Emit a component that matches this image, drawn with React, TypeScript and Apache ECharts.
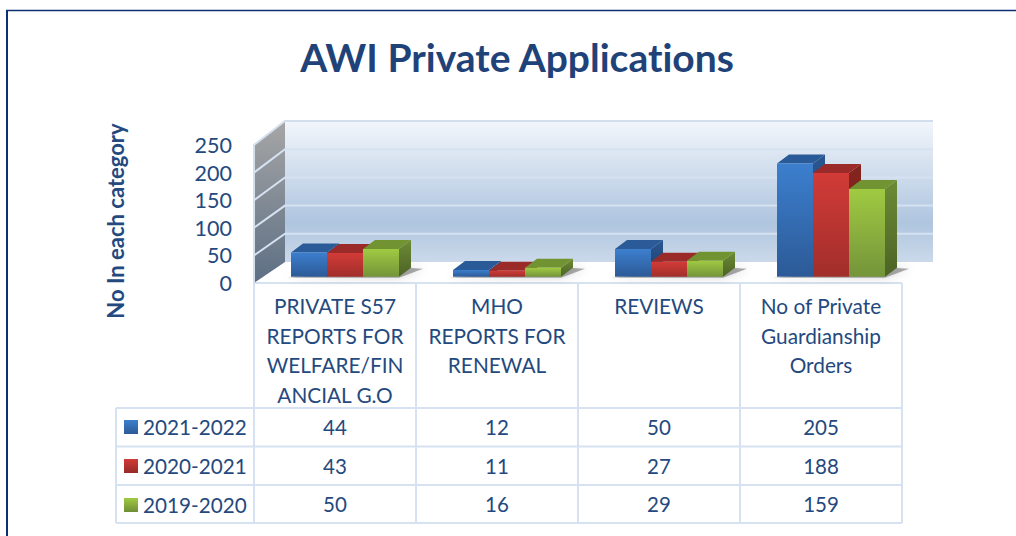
import React, { useEffect, useRef } from "react";
import * as echarts from "echarts";

const categories = [
  "PRIVATE S57\nREPORTS FOR\nWELFARE/FIN\nANCIAL G.O",
  "MHO\nREPORTS FOR\nRENEWAL",
  "REVIEWS",
  "No of Private\nGuardianship\nOrders",
];
const seriesNames = ["2021-2022", "2020-2021", "2019-2020"];
const values2122 = [44, 12, 50, 205];
const values2021 = [43, 11, 27, 188];
const values1920 = [50, 16, 29, 159];
const yTicks = [0, 50, 100, 150, 200, 250];
const titleText = "AWI Private Applications";
const yAxisTitle = "No In each category";

const FONT = "Lato, 'Noto Sans', sans-serif";
const TEXT = "#24497e";
const GRID_LINE = "#d6e2f1";
const grad = (a: string, b: string) =>
  new echarts.graphic.LinearGradient(0, 0, 0, 1, [
    { offset: 0, color: a },
    { offset: 1, color: b },
  ]);

const palette = [
  { front: ["#3c7fce", "#2c5a97"], top: "#2b5a98", side: ["#2a5790", "#1f3f6d"], legend: ["#3c7fce", "#2c5a97"] },
  { front: ["#d23b37", "#a12e2b"], top: "#9b2b28", side: ["#85241f", "#6d1e1b"], legend: ["#d23b37", "#962b28"] },
  { front: ["#a0ca42", "#74943a"], top: "#719331", side: ["#6d8b35", "#4c6325"], legend: ["#a0ca42", "#6f8e36"] },
];

const DEPTH_X = 31, DEPTH_Y = 21;
const BAR_DX = 10, BAR_DY = 6.3, BAR_W = 36, TOP_X = 12, TOP_Y = 9;
const rowY = [426.5, 465.5, 503.5];

function wallItem(params: any, api: any) {
  const i = params.dataIndex;
  const bw = api.size([1, 0])[0];
  const x0 = api.coord([0, 0])[0] - bw / 2;
  const x1 = api.coord([3, 0])[0] + bw / 2;
  const yBase = api.coord([0, 0])[1];
  const yTop = api.coord([0, yTicks[yTicks.length - 1]])[1];
  const y = api.coord([0, api.value(1)])[1];
  const children: any[] = [];
  if (i === 0) {
    children.push(
      {
        type: "polygon",
        shape: { points: [[x0 + DEPTH_X, yTop - DEPTH_Y - 3], [x1 + DEPTH_X, yTop - DEPTH_Y - 3], [x1 + DEPTH_X, yBase - DEPTH_Y], [x0 + DEPTH_X, yBase - DEPTH_Y]] },
        style: {
          fill: new echarts.graphic.LinearGradient(0, 0, 0, 1, [
            { offset: 0, color: "#f2f6fb" },
            { offset: 0.72, color: "#afc5df" },
            { offset: 1, color: "#cbd9ea" },
          ]),
        },
      },
      {
        type: "polygon",
        shape: { points: [[x0, yTop], [x0 + DEPTH_X, yTop - DEPTH_Y - 3], [x0 + DEPTH_X, yBase - DEPTH_Y], [x0, yBase]] },
        style: { fill: grad("#a6a6a6", "#5d6f84") },
      },
      {
        type: "polyline",
        shape: { points: [[x0, yBase], [x0, yTop], [x0 + DEPTH_X, yTop - DEPTH_Y - 3], [x1 + DEPTH_X, yTop - DEPTH_Y - 3]] },
        style: { fill: "none", stroke: "#d3deec", lineWidth: 2 },
      }
    );
  }
  if (i > 0 && i < yTicks.length - 1) {
    const yBack = y - DEPTH_Y - (3 * api.value(1)) / yTicks[yTicks.length - 1];
    children.push({
      type: "polyline",
      shape: { points: [[x0, y], [x0 + DEPTH_X, yBack], [x1 + DEPTH_X, yBack]] },
      style: { fill: "none", stroke: GRID_LINE, lineWidth: 2 },
    });
  }
  return { type: "group", children };
}

function shadowItem(params: any, api: any) {
  const c = api.coord([api.value(0), 0]);
  const x0 = c[0] + BAR_DX - 1.5 * BAR_W;
  const x1 = c[0] + BAR_DX + 1.5 * BAR_W;
  const y = c[1] - BAR_DY;
  return {
    type: "polygon",
    shape: { points: [[x0 - 4, y + 1], [x1, y + 1], [x1 + 24, y - 8], [x1 + 8, y - 9]] },
    style: { fill: "rgba(70,70,70,0.45)", shadowBlur: 8, shadowColor: "rgba(70,70,70,0.5)" },
  };
}

const barItem = (si: number) => (params: any, api: any) => {
  const p = palette[si];
  const v = api.value(1);
  const center = api.coord([api.value(0), 0]);
  const top = api.coord([api.value(0), v]);
  const xl = center[0] + BAR_DX + (si - 1.5) * BAR_W;
  const xr = xl + BAR_W;
  const yb = center[1] - BAR_DY;
  const yt = top[1] - BAR_DY;
  return {
    type: "group",
    children: [
      {
        type: "polygon",
        shape: { points: [[xr, yb], [xr + TOP_X, yb - TOP_Y], [xr + TOP_X, yt - TOP_Y], [xr, yt]] },
        style: { fill: grad(p.side[0], p.side[1]) },
      },
      {
        type: "polygon",
        shape: { points: [[xl, yt], [xr, yt], [xr + TOP_X, yt - TOP_Y], [xl + TOP_X, yt - TOP_Y]] },
        style: { fill: p.top },
      },
      {
        type: "rect",
        shape: { x: xl, y: yt, width: BAR_W, height: yb - yt },
        style: { fill: grad(p.front[0], p.front[1]) },
      },
      {
        type: "text",
        style: {
          text: String(v), x: center[0], y: rowY[si], fill: TEXT,
          fontSize: 20.5, fontFamily: FONT, align: "center", verticalAlign: "middle",
        },
      },
    ],
  };
};

const tableH = [283, 408, 446.5, 485, 523];
const tableV = [254, 416, 578, 740, 902];
const tableLeft = 116;

export default function App() {
  const ref = useRef<HTMLDivElement>(null);
  useEffect(() => {
    document.body.style.margin = "0";
    const chart = echarts.init(ref.current!, undefined, { renderer: "svg" });
    const lineStyle = { stroke: GRID_LINE, lineWidth: 2 };
    const lines: any[] = [];
    tableH.forEach((y, i) =>
      lines.push({ type: "line", z: 0, shape: { x1: i < 2 ? tableV[0] : tableLeft, y1: y, x2: tableV[4], y2: y }, style: lineStyle })
    );
    lines[1].shape.x1 = tableLeft;
    tableV.forEach((x) =>
      lines.push({ type: "line", z: 0, shape: { x1: x, y1: tableH[0], x2: x, y2: tableH[4] }, style: lineStyle })
    );
    lines.push({ type: "line", z: 0, shape: { x1: tableLeft, y1: tableH[1], x2: tableLeft, y2: tableH[4] }, style: lineStyle });
    const frame = "#0d2f73";
    lines.push({ type: "line", shape: { x1: 6, y1: 10.5, x2: 1016, y2: 10.5 }, style: { stroke: frame, lineWidth: 1.5 } });
    lines.push({ type: "line", shape: { x1: 7, y1: 10, x2: 7, y2: 536 }, style: { stroke: frame, lineWidth: 2 } });

    const bars = [values2122, values2021, values1920];
    chart.setOption({
      animation: false,
      backgroundColor: "#ffffff",
      title: {
        text: titleText, left: 512, top: 32, textAlign: "center",
        textStyle: { color: "#1f4379", fontSize: 39, fontWeight: "bold", fontFamily: FONT },
      },
      grid: { left: 254, top: 145, width: 648, height: 138 },
      legend: {
        data: seriesNames, orient: "vertical", left: 124, top: 416.5, itemWidth: 14, itemHeight: 14, itemGap: 18,
        icon: "rect", selectedMode: false, padding: 0,
        textStyle: { color: TEXT, fontSize: 20.7, fontFamily: FONT, lineHeight: 20.4, padding: 0 },
      },
      xAxis: {
        type: "category", data: categories,
        axisLine: { show: false }, axisTick: { show: false },
        axisLabel: { interval: 0, color: TEXT, fontSize: 20.8, fontFamily: FONT, lineHeight: 29.5, margin: 8, verticalAlign: "top" },
      },
      yAxis: {
        type: "value", min: 0, max: 250, interval: 50,
        name: yAxisTitle, nameLocation: "middle", nameGap: 128, nameRotate: 90,
        nameTextStyle: { color: TEXT, fontSize: 22, fontWeight: "bold", fontFamily: FONT, padding: [0, 14, 0, 0] },
        axisLine: { show: false }, axisTick: { show: false }, splitLine: { show: false },
        axisLabel: { color: TEXT, fontSize: 21.5, fontFamily: FONT, margin: 22 },
      },
      graphic: lines,
      series: [
        { type: "custom", name: "walls", z: 1, clip: false, silent: true, renderItem: wallItem, data: yTicks.map((t) => [0, t]), encode: { x: 0, y: 1 } },
        { type: "custom", name: "shadows", z: 2, clip: false, silent: true, renderItem: shadowItem, data: categories.map((_, i) => [i, 0]), encode: { x: 0, y: 1 } },
        ...bars.map((vals, si) => ({
          type: "custom", name: seriesNames[si], z: 3 + si, clip: false,
          renderItem: barItem(si),
          itemStyle: { color: grad(palette[si].legend[0], palette[si].legend[1]) },
          data: vals.map((v, i) => [i, v]),
          encode: { x: 0, y: 1 },
        })),
      ],
    });
    return () => chart.dispose();
  }, []);
  return <div ref={ref} style={{ position: "absolute", left: 0, top: 0, width: 1016, height: 536, fontVariantLigatures: "none" }} />;
}
